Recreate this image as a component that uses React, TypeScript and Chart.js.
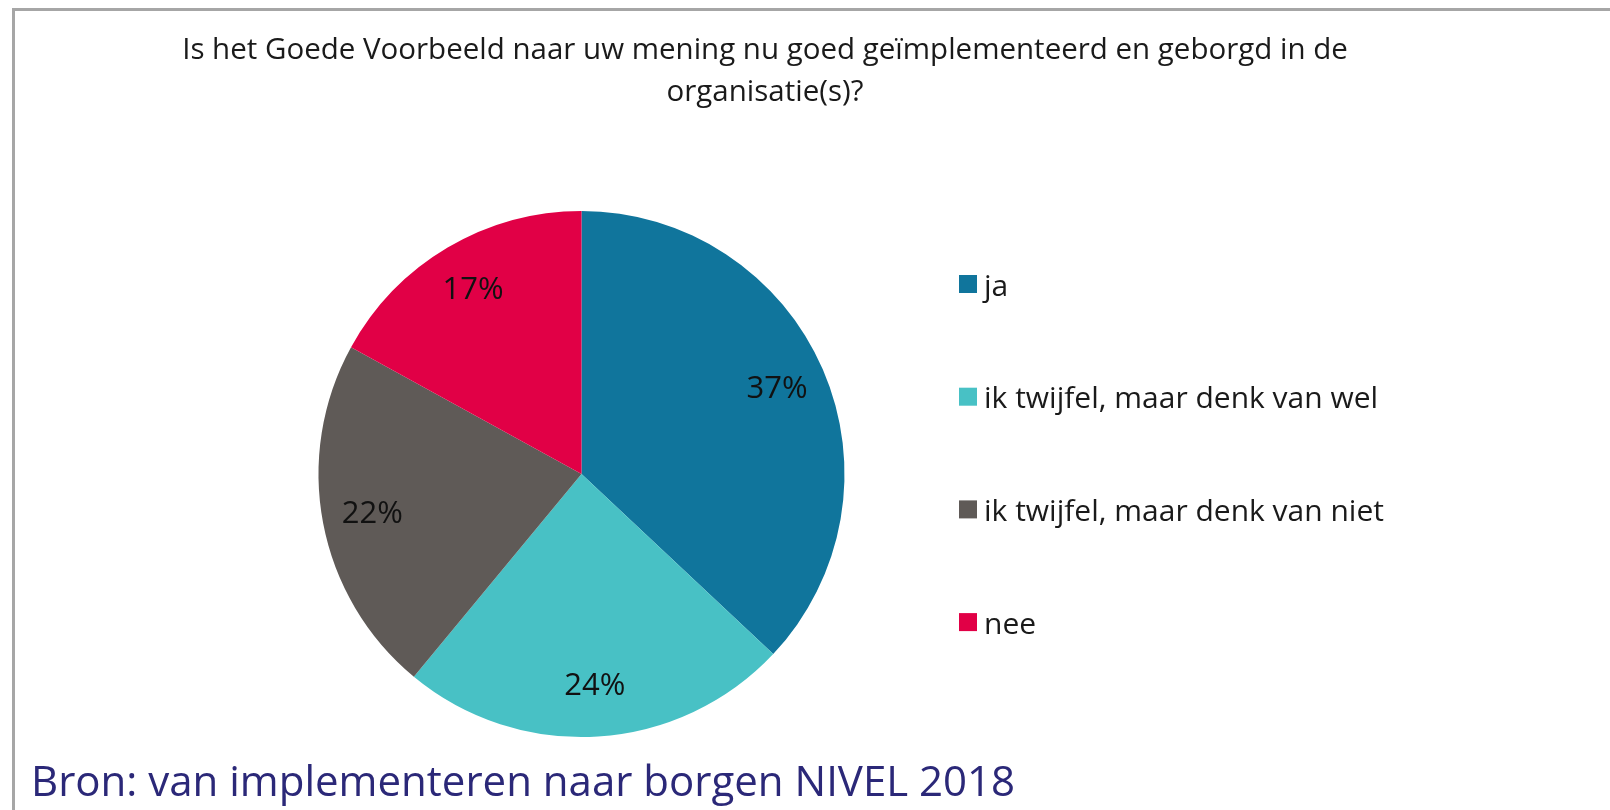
import React, { useEffect, useRef } from "react";
import { Chart, registerables } from "chart.js";

Chart.register(...registerables);

const titleLines = [
  "Is het Goede Voorbeeld naar uw mening nu goed geïmplementeerd en geborgd in de",
  "organisatie(s)?",
];
const categories = [
  "ja",
  "ik twijfel, maar denk van wel",
  "ik twijfel, maar denk van niet",
  "nee",
];
const percentages = [37, 24, 22, 17];
const sliceColors = ["#10759c", "#48c1c5", "#5f5a57", "#e10046"];
const sourceText = "Bron: van implementeren naar borgen NIVEL 2018";

const FONT = "'Open Sans', Lato, sans-serif";

const labelPlugin = {
  id: "sliceLabels",
  afterDatasetsDraw(chart: any) {
    const ctx = chart.ctx;
    const meta = chart.getDatasetMeta(0);
    const data = chart.data.datasets[0].data as number[];
    ctx.save();
    ctx.font = `31px ${FONT}`;
    ctx.fillStyle = "#111111";
    ctx.textAlign = "center";
    ctx.textBaseline = "middle";
    meta.data.forEach((arc: any, i: number) => {
      const p = arc.getProps(["x", "y", "startAngle", "endAngle", "outerRadius"], true);
      const mid = (p.startAngle + p.endAngle) / 2;
      const d = p.outerRadius * 0.81;
      ctx.fillText(`${data[i]}%`, p.x + Math.cos(mid) * d, p.y + Math.sin(mid) * d);
    });
    ctx.restore();
  },
};

const legendPlugin = {
  id: "sideLegend",
  afterDraw(chart: any) {
    const ctx = chart.ctx;
    const labels = chart.data.labels as string[];
    const colors = chart.data.datasets[0].backgroundColor as string[];
    const x0 = 959;
    const y0 = 287;
    const step = 112.7;
    const box = 18;
    ctx.save();
    ctx.font = `30px ${FONT}`;
    ctx.textBaseline = "middle";
    ctx.textAlign = "left";
    labels.forEach((lab, i) => {
      const y = y0 + i * step;
      ctx.fillStyle = colors[i];
      ctx.fillRect(x0, y - box / 2 - 3, box, box);
      ctx.fillStyle = "#1a1a1a";
      ctx.fillText(lab, x0 + 25, y);
    });
    ctx.restore();
  },
};

export default function App() {
  const ref = useRef<HTMLCanvasElement | null>(null);
  useEffect(() => {
    if (!ref.current) return;
    const chart = new Chart(ref.current, {
      type: "pie",
      data: {
        labels: categories,
        datasets: [
          {
            data: percentages,
            backgroundColor: sliceColors,
            borderWidth: 0,
          },
        ],
      },
      options: {
        animation: false,
        responsive: false,
        events: [],
        layout: { padding: { left: 318, right: 1610 - 845, top: 211, bottom: 810 - 737 } },
        plugins: {
          legend: { display: false },
          tooltip: { enabled: false },
          title: { display: false },
        },
      },
      plugins: [labelPlugin, legendPlugin],
    });
    return () => chart.destroy();
  }, []);

  return (
    <div style={{ position: "fixed", left: 0, top: 0, width: 1610, height: 810, background: "#fff", overflow: "hidden" }}>
      <div
        style={{
          position: "absolute",
          left: 12,
          top: 8,
          width: 1620,
          height: 900,
          borderLeft: "3px solid #a6a6a6",
          borderTop: "3px solid #a6a6a6",
          boxSizing: "border-box",
        }}
      />
      <canvas ref={ref} width={1610} height={810} style={{ position: "absolute", left: 0, top: 0 }} />
      <div
        style={{
          position: "absolute",
          left: 0,
          width: 1530,
          top: 27,
          textAlign: "center",
          fontFamily: FONT,
          fontSize: 29.5,
          lineHeight: "42px",
          color: "#1a1a1a",
        }}
      >
        {titleLines.map((l, i) => (
          <div key={i}>{l}</div>
        ))}
      </div>
      <div
        style={{
          position: "absolute",
          left: 31,
          top: 754,
          fontFamily: FONT,
          fontSize: 42,
          lineHeight: "52px",
          color: "#2b2878",
          whiteSpace: "nowrap",
        }}
      >
        {sourceText}
      </div>
    </div>
  );
}
